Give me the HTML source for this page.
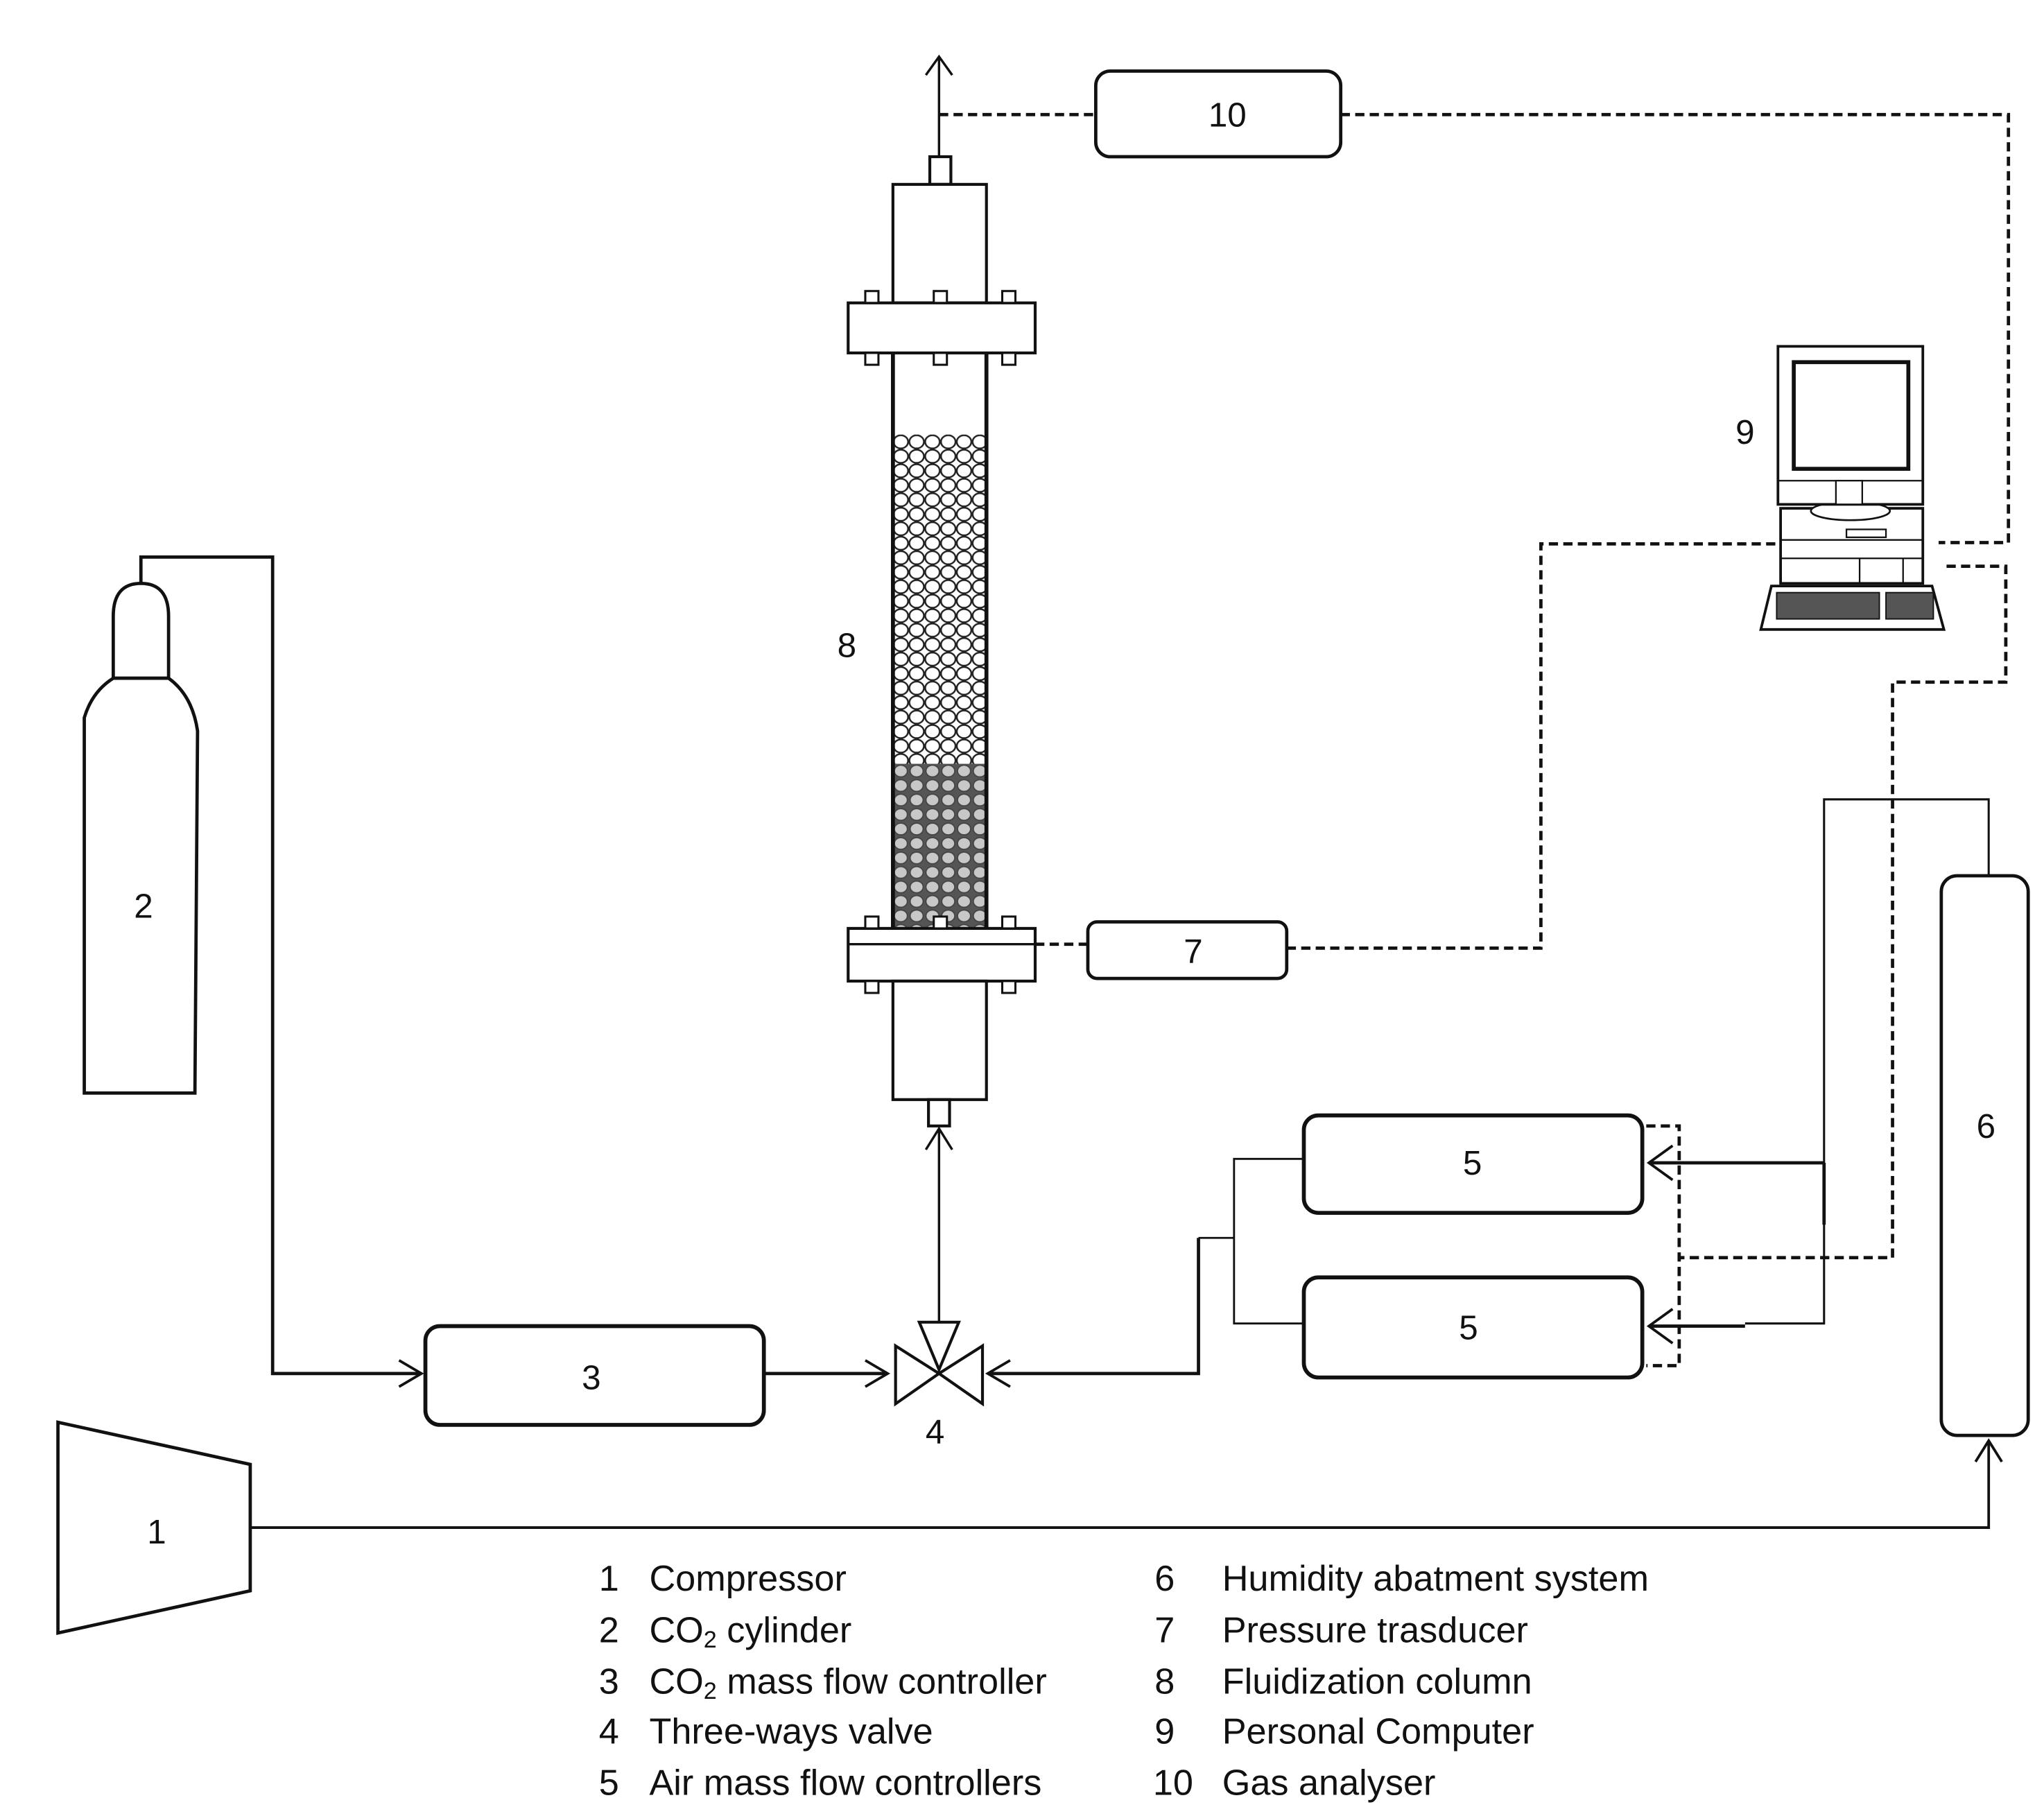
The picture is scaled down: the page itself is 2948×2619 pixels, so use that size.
<!DOCTYPE html>
<html><head><meta charset="utf-8"><style>
html,body{margin:0;padding:0;background:#fff;}
svg{display:block;}
text{font-family:"Liberation Sans",sans-serif;fill:#111;}
</style></head><body>
<svg width="2948" height="2619" viewBox="0 0 1552 1379" preserveAspectRatio="none" xmlns="http://www.w3.org/2000/svg">
<defs>
<pattern id="pw" x="678" y="330" width="12" height="11" patternUnits="userSpaceOnUse">
<rect width="12" height="11" fill="#fff"/>
<ellipse cx="6" cy="5.5" rx="5.5" ry="5" fill="#fff" stroke="#222" stroke-width="1.3"/>
</pattern>
<pattern id="pg" x="678" y="580" width="12" height="11" patternUnits="userSpaceOnUse">
<rect width="12" height="11" fill="#555"/>
<ellipse cx="6" cy="5.5" rx="5" ry="4.5" fill="#c8c8c8" stroke="#444" stroke-width="1"/>
</pattern>
</defs>
<g fill="none" stroke="#111" stroke-width="2.2">
<rect x="706" y="119" width="16" height="21" fill="#fff"/>
<rect x="678" y="140" width="71" height="90" fill="#fff"/>
<rect x="678" y="268" width="71" height="437" fill="#fff"/>
<rect x="679" y="330" width="69" height="250" fill="url(#pw)" stroke="none"/>
<rect x="679" y="580" width="69" height="125" fill="url(#pg)" stroke="none"/>
<line x1="678" y1="268" x2="678" y2="705" stroke-width="3"/>
<line x1="749" y1="268" x2="749" y2="705" stroke-width="3"/>
<rect x="644" y="230" width="142" height="38" fill="#fff"/>
<rect x="644" y="705" width="142" height="40" fill="#fff"/>
<line x1="644" y1="717" x2="786" y2="717" stroke-width="1.8"/>
<g stroke-width="1.6" fill="#fff">
<rect x="657" y="221" width="10" height="9"/><rect x="709" y="221" width="10" height="9"/><rect x="761" y="221" width="10" height="9"/>
<rect x="657" y="268" width="10" height="9"/><rect x="709" y="268" width="10" height="9"/><rect x="761" y="268" width="10" height="9"/>
<rect x="657" y="696" width="10" height="9"/><rect x="709" y="696" width="10" height="9"/><rect x="761" y="696" width="10" height="9"/>
<rect x="657" y="745" width="10" height="9"/><rect x="709" y="745" width="10" height="9"/><rect x="761" y="745" width="10" height="9"/>
</g>
<rect x="678" y="745" width="71" height="90" fill="#fff"/>
<rect x="705" y="835" width="16" height="20" fill="#fff"/>
<line x1="713" y1="119" x2="713" y2="43" stroke-width="1.8"/>
<polyline points="703,57 713,43 723,57" stroke-width="1.8"/>
<rect x="832" y="54" width="186" height="65" rx="11" stroke-width="2.5"/>
<rect x="826" y="700" width="151" height="43" rx="7" stroke-width="2.5"/>
<rect x="990" y="847" width="257" height="74" rx="11" stroke-width="3"/>
<rect x="990" y="970" width="257" height="76" rx="11" stroke-width="3"/>
<rect x="1474" y="665" width="66" height="425" rx="12" stroke-width="2.5"/>
<rect x="323" y="1007" width="257" height="75" rx="11" stroke-width="3"/>
<polygon points="44,1080 190,1112 190,1208 44,1240" stroke-width="2.5"/>
<path d="M86,515 L86,468 Q86,443 107,443 Q128,443 128,468 L128,515 Z" stroke-width="2.5"/>
<path d="M64,830 L64,545 Q70,525 86,515 L128,515 Q146,528 150,555 L148,830 Z" stroke-width="2.5"/>
<polyline points="107,443 107,423 207,423 207,1043 320,1043" stroke-width="2.5"/>
<polyline points="303,1033 320,1043 303,1053" stroke-width="2"/>
<line x1="580" y1="1043" x2="674" y2="1043" stroke-width="2.5"/>
<polyline points="657,1033 674,1043 657,1053" stroke-width="2"/>
<polygon points="680,1022 713,1043 680,1066" stroke-width="2.2" fill="#fff"/>
<polygon points="746,1022 713,1043 746,1066" stroke-width="2.2" fill="#fff"/>
<polygon points="698,1004 728,1004 713,1040" stroke-width="2.2" fill="#fff"/>
<line x1="713" y1="1004" x2="713" y2="858" stroke-width="1.8"/>
<polyline points="703,873 713,857 723,873" stroke-width="1.8"/>
<polyline points="910,940 910,1043 750,1043" stroke-width="2.5"/>
<polyline points="767,1033 750,1043 767,1053" stroke-width="2"/>
<polyline points="990,880 937,880 937,1005 990,1005" stroke-width="1.5"/>
<line x1="910" y1="940" x2="937" y2="940" stroke-width="1.5"/>
<polyline points="1510,665 1510,607 1385,607 1385,1005 1325,1005" stroke-width="1.6"/>
<line x1="1385" y1="883" x2="1252" y2="883" stroke-width="2.5"/>
<line x1="1385" y1="883" x2="1385" y2="930" stroke-width="2.5"/>
<line x1="1325" y1="1007" x2="1252" y2="1007" stroke-width="2.5"/>
<polyline points="1270,870 1252,883 1270,896" stroke-width="2"/>
<polyline points="1270,994 1252,1007 1270,1020" stroke-width="2"/>
<polyline points="190,1160 1510,1160 1510,1095" stroke-width="2"/>
<polyline points="1500,1110 1510,1094 1520,1110" stroke-width="2"/>
</g>
<g fill="none" stroke="#111" stroke-width="2.5" stroke-dasharray="7,4">
<line x1="713" y1="87" x2="832" y2="87"/>
<polyline points="1018,87 1525,87 1525,412 1472,412"/>
<line x1="786" y1="717" x2="826" y2="717"/>
<polyline points="977,720 1170,720 1170,413 1352,413"/>
<polyline points="1478,430 1523,430 1523,518 1437,518 1437,955 1275,955"/>
<polyline points="1250,855 1275,855 1275,1037 1250,1037"/>
</g>
<g fill="#fff" stroke="#111" stroke-width="2">
<rect x="1352" y="386" width="108" height="57"/>
<line x1="1352" y1="410" x2="1460" y2="410" stroke-width="1.2"/>
<line x1="1352" y1="424" x2="1460" y2="424" stroke-width="1.2"/>
<line x1="1412" y1="424" x2="1412" y2="443" stroke-width="1.2"/>
<line x1="1445" y1="424" x2="1445" y2="443" stroke-width="1.2"/>
<rect x="1402" y="402" width="30" height="6" stroke-width="1.2"/>
<ellipse cx="1405" cy="388" rx="30" ry="7" stroke-width="1.4"/>
<rect x="1350" y="263" width="110" height="120"/>
<rect x="1362" y="275" width="87" height="81" stroke-width="3"/>
<line x1="1350" y1="365" x2="1460" y2="365" stroke-width="1.2"/>
<rect x="1394" y="365" width="20" height="18" stroke-width="1.2"/>
<path d="M1345,445 L1467,445 L1476,478 L1337,478 Z"/>
<rect x="1349" y="450" width="78" height="20" fill="#555" stroke-width="1"/>
<rect x="1432" y="450" width="36" height="20" fill="#555" stroke-width="1"/>
</g>
<g font-size="26" text-anchor="middle">
<text x="932" y="96">10</text>
<text x="906" y="731">7</text>
<text x="1118" y="892">5</text>
<text x="1115" y="1017">5</text>
<text x="449" y="1055">3</text>
<text x="119" y="1172">1</text>
<text x="109" y="697">2</text>
<text x="643" y="499" font-family="Liberation Serif">8</text>
<text x="1325" y="337">9</text>
<text x="1508" y="864">6</text>
<text x="710" y="1096">4</text>
</g>
<g font-size="27.5">
<g text-anchor="end">
<text x="470" y="1208">1</text><text x="470" y="1247">2</text><text x="470" y="1286">3</text><text x="470" y="1324">4</text><text x="470" y="1363">5</text>
<text x="892" y="1208">6</text><text x="892" y="1247">7</text><text x="892" y="1286">8</text><text x="892" y="1324">9</text><text x="906" y="1363">10</text>
</g>
<text x="493" y="1208">Compressor</text>
<text x="493" y="1247">CO<tspan font-size="18" dy="4">2</tspan><tspan dy="-4"> cylinder</tspan></text>
<text x="493" y="1286">CO<tspan font-size="18" dy="4">2</tspan><tspan dy="-4"> mass flow controller</tspan></text>
<text x="493" y="1324">Three-ways valve</text>
<text x="493" y="1363">Air mass flow controllers</text>
<text x="928" y="1208">Humidity abatment system</text>
<text x="928" y="1247">Pressure trasducer</text>
<text x="928" y="1286">Fluidization column</text>
<text x="928" y="1324">Personal Computer</text>
<text x="928" y="1363">Gas analyser</text>
</g>
</svg>
</body></html>
